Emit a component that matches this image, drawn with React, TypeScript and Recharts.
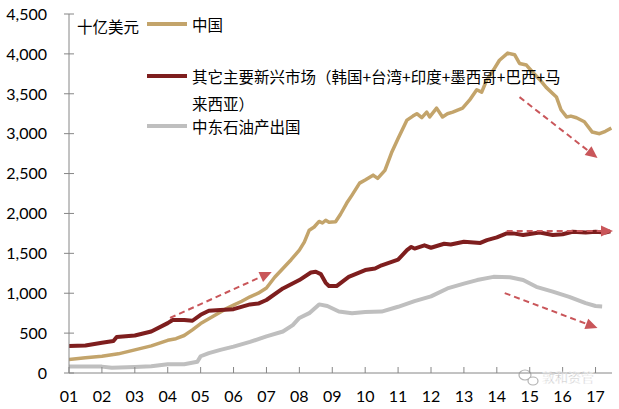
import React from "react";
import {
  LineChart,
  Line,
  XAxis,
  YAxis,
  ReferenceLine,
} from "recharts";

// [year, 十亿美元]
const chinaPoints: [number, number][] = [
  [2001.0, 170], [2001.5, 190], [2002.0, 210], [2002.5, 240], [2003.0, 290],
  [2003.5, 340], [2004.0, 410], [2004.25, 430], [2004.5, 470], [2004.75, 540],
  [2005.0, 620], [2005.25, 680], [2005.5, 740], [2005.75, 800], [2006.0, 850],
  [2006.25, 900], [2006.5, 955], [2006.75, 1000], [2007.0, 1065], [2007.25, 1200],
  [2007.5, 1310], [2007.75, 1420], [2008.0, 1540], [2008.15, 1640], [2008.3, 1790],
  [2008.45, 1830], [2008.6, 1900], [2008.7, 1880], [2008.8, 1915], [2008.9, 1890],
  [2009.1, 1895], [2009.25, 1990], [2009.44, 2130], [2009.6, 2230], [2009.83, 2380],
  [2010.0, 2420], [2010.24, 2480], [2010.38, 2440], [2010.6, 2540], [2010.8, 2760],
  [2011.0, 2940], [2011.27, 3170], [2011.45, 3220], [2011.57, 3250], [2011.72, 3200],
  [2011.87, 3270], [2011.96, 3210], [2012.17, 3320], [2012.35, 3210], [2012.5, 3250],
  [2012.66, 3270], [2012.96, 3320], [2013.17, 3420], [2013.39, 3550], [2013.54, 3520],
  [2013.69, 3670], [2013.9, 3800], [2014.08, 3920], [2014.33, 4010], [2014.54, 3990],
  [2014.69, 3880], [2014.9, 3860], [2015.09, 3770], [2015.3, 3680], [2015.5, 3580],
  [2015.81, 3460], [2015.95, 3300], [2016.12, 3210], [2016.25, 3220], [2016.42, 3200],
  [2016.66, 3150], [2016.9, 3020], [2017.12, 3000], [2017.3, 3030], [2017.48, 3070],
];

const otherEmPoints: [number, number][] = [
  [2001.0, 340], [2001.5, 345], [2002.0, 380], [2002.35, 400], [2002.45, 450],
  [2003.0, 470], [2003.5, 520], [2004.0, 625], [2004.15, 665], [2004.5, 665],
  [2004.75, 655], [2005.0, 730], [2005.25, 780], [2005.6, 790], [2006.0, 800],
  [2006.5, 860], [2006.75, 870], [2007.0, 915], [2007.5, 1060], [2008.0, 1165],
  [2008.35, 1260], [2008.5, 1270], [2008.65, 1240], [2008.8, 1130], [2008.9, 1090],
  [2009.13, 1090], [2009.5, 1205], [2010.0, 1290], [2010.3, 1310], [2010.5, 1350],
  [2011.0, 1420], [2011.27, 1540], [2011.4, 1580], [2011.5, 1560], [2011.8, 1600],
  [2012.0, 1570], [2012.4, 1620], [2012.6, 1610], [2013.0, 1645], [2013.5, 1630],
  [2013.7, 1665], [2014.0, 1700], [2014.3, 1750], [2014.5, 1750], [2014.8, 1730],
  [2015.3, 1760], [2015.7, 1730], [2016.0, 1740], [2016.3, 1770], [2016.7, 1760],
  [2017.0, 1770], [2017.3, 1760], [2017.45, 1775],
];

const middleEastPoints: [number, number][] = [
  [2001.0, 80], [2002.0, 80], [2002.3, 65], [2003.0, 75], [2003.5, 85],
  [2004.0, 110], [2004.5, 110], [2004.9, 140], [2005.0, 210], [2005.25, 250],
  [2005.6, 290], [2006.0, 330], [2006.5, 390], [2007.0, 460], [2007.5, 520],
  [2007.8, 600], [2008.0, 690], [2008.3, 750], [2008.6, 860], [2008.85, 840],
  [2009.2, 770], [2009.6, 750], [2010.0, 765], [2010.5, 770], [2011.0, 830],
  [2011.5, 900], [2012.0, 960], [2012.5, 1060], [2013.0, 1120], [2013.4, 1165],
  [2013.9, 1205], [2014.4, 1200], [2014.8, 1165], [2015.2, 1080], [2015.7, 1020],
  [2016.2, 955], [2016.7, 875], [2017.0, 840], [2017.2, 835],
];

const yearLabels = ["01", "02", "03", "04", "05", "06", "07", "08", "09", "10", "11", "12", "13", "14", "15", "16", "17"];
const yTicks = [0, 500, 1000, 1500, 2000, 2500, 3000, 3500, 4000, 4500];

// dashed trend arrows, [from, to] in data coords
const arrows: [[number, number], [number, number]][] = [
  [[2004.07, 690], [2007.16, 1266]],
  [[2014.69, 3458], [2017.06, 2694]],
  [[2014.3, 1779], [2017.53, 1779]],
  [[2014.24, 1002], [2017.06, 564]],
];

const CHINA = "#C3A46B";
const OTHER = "#7E1E1E";
const MIDEAST = "#BFBFBF";
const ARROW = "#C9565A";
const AXIS = "#868686";
const NUM_FONT = "Lato, 'Liberation Sans', sans-serif";
const CJK_FONT = "'Noto Sans CJK SC', sans-serif";

const toRows = (pts: [number, number][]) => pts.map(([t, v]) => ({ t, v }));

const YTick = (props: any) => {
  const { x, y, payload } = props;
  return (
    <g>
      <line x1={x - 5} x2={x + 5} y1={y} y2={y} stroke={AXIS} />
      <text x={x - 22} y={y} dy="0.36em" textAnchor="end" fontFamily={NUM_FONT} fontSize={16} fill="#000">
        {Number(payload.value).toLocaleString("en-US")}
      </text>
    </g>
  );
};

const XTick = (props: any) => {
  const { x, y, payload } = props;
  const idx = Math.round(payload.value - 2001);
  return (
    <g>
      <line x1={x} x2={x} y1={y} y2={y - 6} stroke={AXIS} />
      <text x={x} y={y + 29} textAnchor="middle" fontFamily={NUM_FONT} fontSize={16} fill="#000">
        {yearLabels[idx]}
      </text>
    </g>
  );
};

const Arrow = (props: any) => {
  const { x1, y1, x2, y2 } = props;
  const dx = x2 - x1;
  const dy = y2 - y1;
  const len = Math.sqrt(dx * dx + dy * dy);
  const ux = dx / len;
  const uy = dy / len;
  const head = 12;
  const half = 5.5;
  const bx = x2 - ux * head;
  const by = y2 - uy * head;
  return (
    <g>
      <line x1={x1} y1={y1} x2={bx} y2={by} stroke={ARROW} strokeWidth={2} strokeDasharray="6 4" />
      <polygon
        points={`${x2},${y2} ${bx - uy * half},${by + ux * half} ${bx + uy * half},${by - ux * half}`}
        fill={ARROW}
      />
    </g>
  );
};

const Overlay = () => (
  <svg width={619} height={409} style={{ position: "absolute", left: 0, top: 0, pointerEvents: "none" }}>
    <g fontFamily={CJK_FONT} fontSize={15.5} fill="#000" dominantBaseline="central">
      <text x={77} y={26}>十亿美元</text>
      <line x1={147} x2={187} y1={24} y2={24} stroke={CHINA} strokeWidth={4} />
      <text x={192} y={24}>中国</text>
      <line x1={147} x2={187} y1={76} y2={76} stroke={OTHER} strokeWidth={4} />
      <text x={192} y={76}>其它主要新兴市场（韩国+台湾+印度+墨西哥+巴西+马</text>
      <text x={192} y={103}>来西亚）</text>
      <line x1={147} x2={187} y1={126} y2={126} stroke={MIDEAST} strokeWidth={4} />
      <text x={192} y={126}>中东石油产出国</text>
    </g>
    <g opacity={0.75}>
      <ellipse cx={525} cy={375} rx={6} ry={5} fill="none" stroke="#9a9a9a" strokeWidth={1.2} />
      <ellipse cx={533} cy={381} rx={5} ry={4} fill="#fff" stroke="#9a9a9a" strokeWidth={1.2} />
      <text x={542} y={376} dominantBaseline="central" fontFamily={CJK_FONT} fontSize={13} fill="#9a9a9a" stroke="#fff" strokeWidth={0.5}>
        敦和资管
      </text>
    </g>
  </svg>
);

export default function App() {
  return (
    <div style={{ position: "absolute", left: 0, top: 0, width: 619, height: 409, background: "#fff" }}>
      <LineChart width={619} height={409} margin={{ top: 14, right: 7, bottom: 0, left: 0 }}>
        <XAxis
          type="number"
          dataKey="t"
          domain={[2001, 2017.5]}
          ticks={yearLabels.map((_, i) => 2001 + i)}
          interval={0}
          tick={<XTick />}
          tickLine={false}
          tickSize={0}
          tickMargin={0}
          height={36}
          axisLine={{ stroke: AXIS }}
          allowDataOverflow
        />
        <YAxis
          type="number"
          domain={[0, 4500]}
          ticks={yTicks}
          tick={<YTick />}
          tickLine={false}
          tickSize={0}
          tickMargin={0}
          width={69}
          axisLine={{ stroke: AXIS }}
          interval={0}
        />
        <Line data={toRows(middleEastPoints)} dataKey="v" stroke={MIDEAST} strokeWidth={4} dot={false} isAnimationActive={false} strokeLinejoin="round" />
        <Line data={toRows(chinaPoints)} dataKey="v" stroke={CHINA} strokeWidth={3.5} dot={false} isAnimationActive={false} strokeLinejoin="round" />
        <Line data={toRows(otherEmPoints)} dataKey="v" stroke={OTHER} strokeWidth={4} dot={false} isAnimationActive={false} strokeLinejoin="round" />
        {arrows.map(([a, b], i) => (
          <ReferenceLine
            key={i}
            segment={[{ x: a[0], y: a[1] }, { x: b[0], y: b[1] }]}
            ifOverflow="visible"
            shape={<Arrow />}
          />
        ))}
      </LineChart>
      <Overlay />
    </div>
  );
}
